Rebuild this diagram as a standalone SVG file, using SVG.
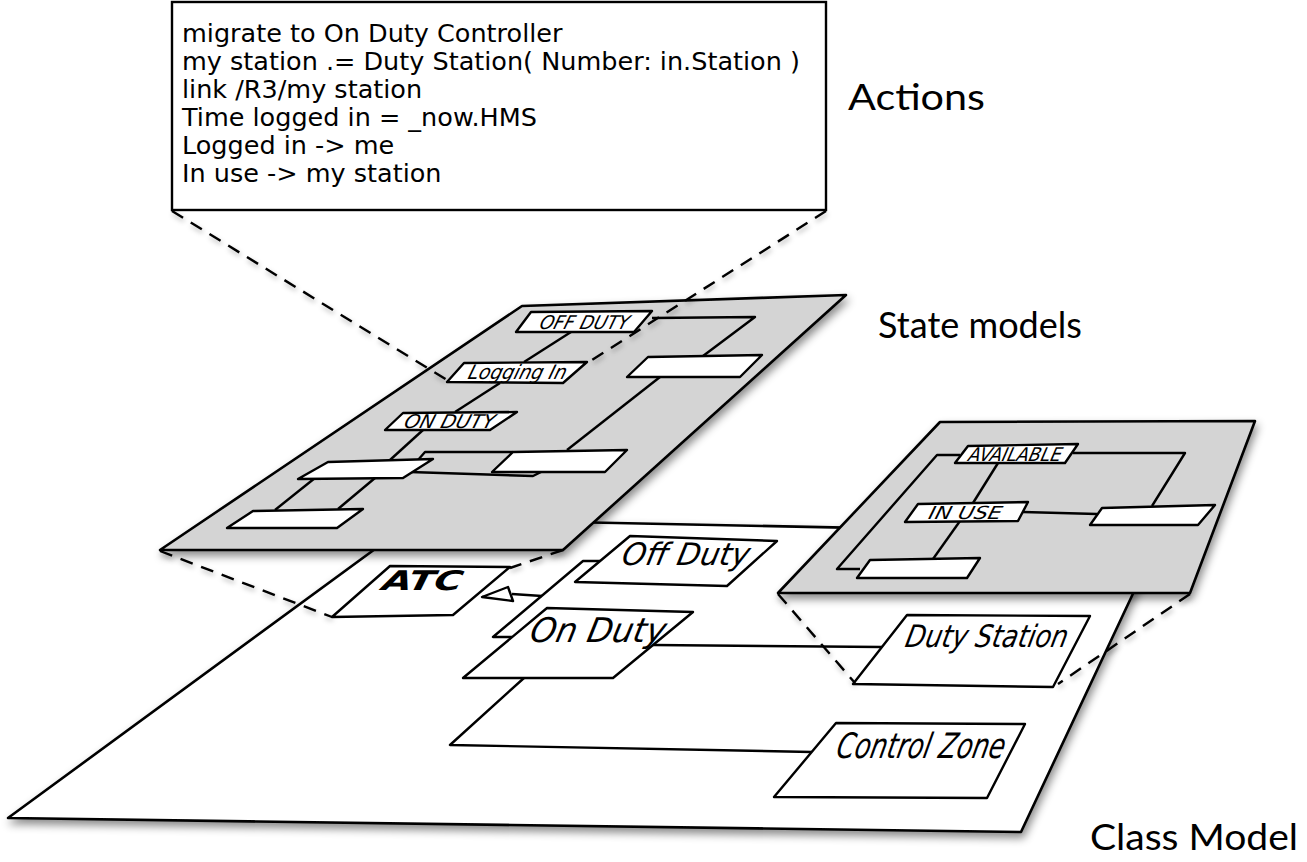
<svg xmlns="http://www.w3.org/2000/svg" width="1307" height="862" viewBox="0 0 1307 862">
<defs>
<filter id="sh" x="-10%" y="-10%" width="125%" height="130%">
<feDropShadow dx="2" dy="5" stdDeviation="4" flood-color="#000" flood-opacity="0.45"/>
</filter>
<filter id="sh2" x="-10%" y="-10%" width="125%" height="130%">
<feDropShadow dx="1" dy="3" stdDeviation="2.5" flood-color="#000" flood-opacity="0.3"/>
</filter>
<style>
.plane{stroke:#000;stroke-width:2.6;stroke-linejoin:round}
.white{fill:#fff}
.gray{fill:#d4d4d4}
.box{fill:#fff;stroke:#000;stroke-width:2.4;stroke-linejoin:round}
.ln{fill:none;stroke:#000;stroke-width:2.4;stroke-linejoin:round}
.dash{fill:none;stroke:#000;stroke-width:2.4;stroke-dasharray:13 9}
.cls{font-family:"DejaVu Sans Condensed","DejaVu Sans",sans-serif;font-style:italic;fill:#000}
.st{font-family:"DejaVu Sans Condensed","DejaVu Sans",sans-serif;font-style:italic;fill:#000}
.act{font-family:"DejaVu Sans",sans-serif;font-size:25.5px;fill:#000}
.lbl{font-family:Lato,"Noto Sans",sans-serif;font-size:37px;fill:#000}
</style>
</defs>

<!-- Class model plane -->
<g id="class-plane">
<polygon class="plane white" filter="url(#sh)" points="416,519 1161,534 1021,832 8,818"/>
</g>

<g id="class-connectors">
<line class="ln" x1="653" y1="645" x2="882" y2="647"/>
<polyline class="ln" points="524,678 450,745 812,752"/>
<polyline class="ln" points="600,561 583,561 493,637 512,637"/>
<line class="ln" x1="512" y1="594" x2="542" y2="596"/>
<polygon class="box" points="482,597 508,587 513,601"/>
</g>

<g id="node-atc">
<polygon class="box" points="332,617 390,566 510,567 453,615"/>
<text class="cls" font-weight="bold" font-size="27" text-anchor="middle" transform="translate(421,590) skewX(-12)" textLength="80" lengthAdjust="spacingAndGlyphs">ATC</text>
</g>
<g id="node-off-duty">
<polygon class="box" points="575,582 630,536 777,541 727,586"/>
<text class="cls" font-size="31" text-anchor="middle" transform="translate(684,565) skewX(-12)" textLength="127" lengthAdjust="spacingAndGlyphs">Off Duty</text>
</g>
<g id="node-on-duty">
<polygon class="box" points="463,678 547,608 693,612 613,678"/>
<text class="cls" font-size="34" text-anchor="middle" transform="translate(596,642) skewX(-12)" textLength="135" lengthAdjust="spacingAndGlyphs">On Duty</text>
</g>
<g id="node-duty-station">
<polygon class="box" points="853,684 907,615 1090,616 1053,687"/>
<text class="cls" font-size="31" text-anchor="middle" transform="translate(985,647) skewX(-12)" textLength="162" lengthAdjust="spacingAndGlyphs">Duty Station</text>
</g>
<g id="node-control-zone">
<polygon class="box" points="774,797 836,723 1025,724 987,798"/>
<text class="cls" font-size="35" text-anchor="middle" transform="translate(919,758) skewX(-12)" textLength="168" lengthAdjust="spacingAndGlyphs">Control Zone</text>
</g>

<!-- Right state model plane -->
<g id="state-plane-right">
<polygon class="plane gray" filter="url(#sh)" points="940,422 1255,421 1190,593 778,593"/>
<g id="right-sm-connectors">
<polyline class="ln" points="960,455 937,455 837,569 860,569"/>
<polyline class="ln" points="1073,453 1185,453 1152,506"/>
<line class="ln" x1="998" y1="463" x2="973" y2="503"/>
<line class="ln" x1="1023" y1="512" x2="1097" y2="514"/>
<line class="ln" x1="960" y1="521" x2="933" y2="559"/>
</g>
<g id="state-available">
<polygon class="box" points="955,463 968,446 1078,444 1065,463"/>
<text class="st" font-size="19" text-anchor="middle" transform="translate(1014,461) skewX(-14)" textLength="93" lengthAdjust="spacingAndGlyphs">AVAILABLE</text>
</g>
<g id="state-in-use">
<polygon class="box" points="905,522 918,504 1028,502 1018,521"/>
<text class="st" font-size="18" text-anchor="middle" transform="translate(964,519) skewX(-14)" textLength="73" lengthAdjust="spacingAndGlyphs">IN USE</text>
</g>
<g id="state-r3"><polygon class="box" points="857,578 870,560 980,558 967,578"/></g>
<g id="state-r4"><polygon class="box" points="1090,525 1102,508 1215,505 1198,525"/></g>
</g>

<!-- Left state model plane -->
<g id="state-plane-left">
<polygon class="plane gray" filter="url(#sh)" points="522,306 846,295 563,550 160,550"/>
<g id="left-sm-connectors">
<polyline class="ln" points="652,318 755,317 703,356"/>
<line class="ln" x1="571" y1="332" x2="524" y2="362"/>
<line class="ln" x1="500" y1="383" x2="455" y2="412"/>
<line class="ln" x1="423" y1="430" x2="390" y2="460"/>
<line class="ln" x1="315" y1="478" x2="275" y2="510"/>
<line class="ln" x1="375" y1="478" x2="338" y2="509"/>
<polyline class="ln" points="418,460 425,452 513,452"/>
<polyline class="ln" points="410,472 533,476 543,471"/>
<line class="ln" x1="660" y1="377" x2="567" y2="450"/>
</g>
<g id="state-off-duty">
<polygon class="box" points="516,332 531,312 652,311 634,332"/>
<text class="st" font-size="19" text-anchor="middle" transform="translate(583,329) skewX(-16)" textLength="89" lengthAdjust="spacingAndGlyphs">OFF DUTY</text>
</g>
<g id="state-logging-in">
<polygon class="box" points="447,382 464,363 587,362 563,383"/>
<text class="st" font-size="20" text-anchor="middle" transform="translate(516,379) skewX(-16)" textLength="98" lengthAdjust="spacingAndGlyphs">Logging In</text>
</g>
<g id="state-on-duty">
<polygon class="box" points="385,430 403,413 517,412 490,430"/>
<text class="st" font-size="19" text-anchor="middle" transform="translate(448,428) skewX(-16)" textLength="90" lengthAdjust="spacingAndGlyphs">ON DUTY</text>
</g>
<g id="state-l4"><polygon class="box" points="298,479 328,462 433,459 403,478"/></g>
<g id="state-l5"><polygon class="box" points="227,528 253,511 363,509 337,528"/></g>
<g id="state-l6"><polygon class="box" points="492,472 513,452 627,450 605,472"/></g>
<g id="state-l7"><polygon class="box" points="627,377 648,357 762,355 740,377"/></g>
</g>

<!-- Projection lines -->
<g id="projections" filter="url(#sh2)">
<line class="dash" x1="172" y1="211" x2="447" y2="380"/>
<line class="dash" x1="826" y1="211" x2="592" y2="360"/>
<line class="dash" x1="160" y1="551" x2="332" y2="617"/>
<line class="dash" x1="563" y1="550" x2="510" y2="568"/>
<line class="dash" x1="778" y1="594" x2="855" y2="683"/>
<line class="dash" x1="1190" y1="594" x2="1058" y2="684"/>
</g>

<!-- Actions box -->
<g id="actions-box">
<rect x="172" y="2" width="654" height="208" fill="#fff" stroke="#000" stroke-width="2.4"/>
<text class="act" x="182" y="42">migrate to On Duty Controller</text>
<text class="act" x="182" y="70">my station .= Duty Station( Number: in.Station )</text>
<text class="act" x="182" y="98">link /R3/my station</text>
<text class="act" x="182" y="126">Time logged in = _now.HMS</text>
<text class="act" x="182" y="154">Logged in -&gt; me</text>
<text class="act" x="182" y="182">In use -&gt; my station</text>
</g>

<g id="labels">
<text class="lbl" x="848" y="110" textLength="137" lengthAdjust="spacingAndGlyphs">Actions</text>
<text class="lbl" x="878" y="338" textLength="204" lengthAdjust="spacingAndGlyphs">State models</text>
<text class="lbl" x="1090" y="850" textLength="208" lengthAdjust="spacingAndGlyphs">Class Model</text>
</g>
</svg>
